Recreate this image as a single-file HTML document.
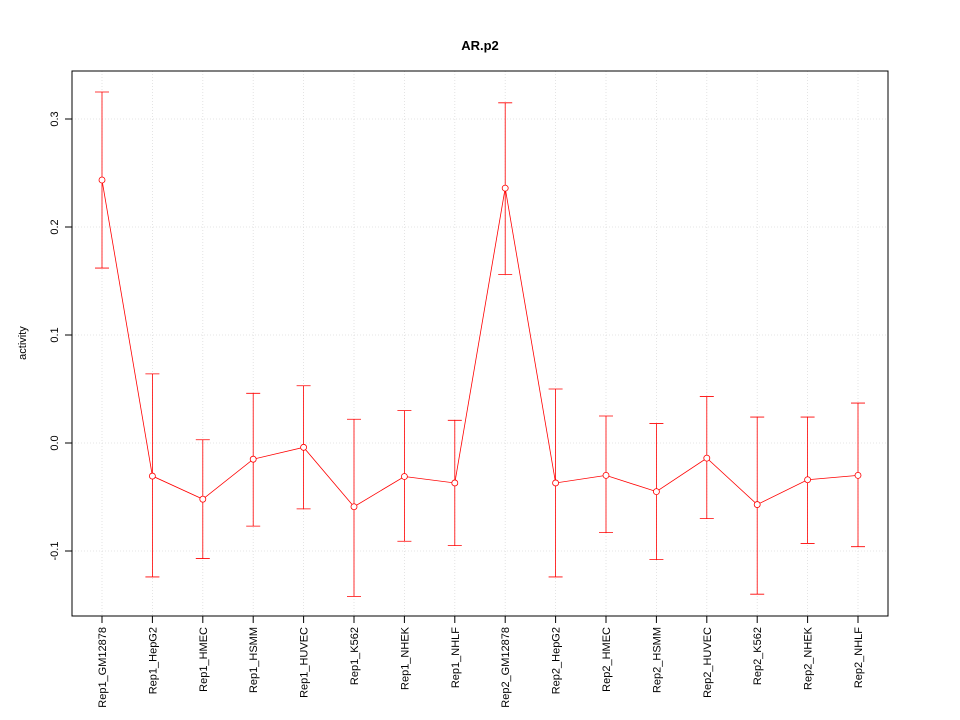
<!DOCTYPE html>
<html><head><meta charset="utf-8"><style>body{margin:0;background:#fff}svg{display:block;font-family:"Liberation Sans",sans-serif}</style></head>
<body>
<svg id="chart" width="960" height="720" xmlns="http://www.w3.org/2000/svg">
<rect width="960" height="720" fill="#fff"/>
<text x="480" y="50" text-anchor="middle" font-size="13" font-weight="bold">AR.p2</text>
<text transform="translate(26,343) rotate(-90)" text-anchor="middle" font-size="11">activity</text>
<g id="grid"></g><g id="axes"></g><g id="marks"></g>
<rect x="72" y="71" width="816" height="545" fill="none" stroke="#000"/>
</svg>
<script>
const categories=["Rep1_GM12878","Rep1_HepG2","Rep1_HMEC","Rep1_HSMM","Rep1_HUVEC","Rep1_K562","Rep1_NHEK","Rep1_NHLF","Rep2_GM12878","Rep2_HepG2","Rep2_HMEC","Rep2_HSMM","Rep2_HUVEC","Rep2_K562","Rep2_NHEK","Rep2_NHLF"];
const values=[0.2435,-0.0306,-0.052,-0.015,-0.004,-0.059,-0.031,-0.037,0.236,-0.037,-0.030,-0.045,-0.014,-0.057,-0.034,-0.030];
const upper=[0.325,0.064,0.003,0.046,0.053,0.022,0.030,0.021,0.315,0.050,0.025,0.018,0.043,0.024,0.024,0.037];
const lower=[0.162,-0.124,-0.107,-0.077,-0.061,-0.142,-0.091,-0.095,0.156,-0.124,-0.083,-0.108,-0.070,-0.140,-0.093,-0.096];
const yTicks=[-0.1,0.0,0.1,0.2,0.3];
const yTickLabels=["-0.1","0.0","0.1","0.2","0.3"];
const NS="http://www.w3.org/2000/svg";
const y=v=>443-1080*v;
const x=i=>102+i*(756/(categories.length-1));
function mk(t,a,p){const e=document.createElementNS(NS,t);for(const k in a)e.setAttribute(k,a[k]);p.appendChild(e);return e;}
const grid=document.getElementById('grid'),axes=document.getElementById('axes'),marks=document.getElementById('marks');
categories.forEach((c,i)=>{
 const g=mk('line',{x1:x(i),x2:x(i),y1:71,y2:616,stroke:'#ddd','stroke-width':0.8,'stroke-dasharray':'1,2'},grid);
 
 
 const t=mk('line',{x1:x(i),x2:x(i),y1:616,y2:623,stroke:'#000'},axes);
 
 
 const l=mk('text',{transform:`translate(${x(i)+4},627) rotate(-90)`,'text-anchor':'end','font-size':'11'},axes);
 l.textContent=c;
 
 
});
yTicks.forEach((v,i)=>{
 const g=mk('line',{x1:72,x2:888,y1:y(v),y2:y(v),stroke:'#ddd','stroke-width':0.8,'stroke-dasharray':'1,2'},grid);
 
 
 const t=mk('line',{x1:65,x2:72,y1:y(v),y2:y(v),stroke:'#000'},axes);
 
 
 const l=mk('text',{transform:`translate(58,${y(v)}) rotate(-90)`,'text-anchor':'middle','font-size':'11'},axes);
 l.textContent=yTickLabels[i];
 
 
});
const pl=mk('polyline',{points:values.map((v,i)=>x(i)+','+y(v)).join(' '),fill:'none',stroke:'#f00','stroke-width':0.8},marks);


values.forEach((v,i)=>{
 const e=mk('path',{d:`M${x(i)},${y(upper[i])}V${y(lower[i])}M${x(i)-7},${y(upper[i])}H${x(i)+7}M${x(i)-7},${y(lower[i])}H${x(i)+7}`,stroke:'#f00','stroke-width':0.8,fill:'none'},marks);
 
 
 const p=mk('circle',{cx:x(i),cy:y(v),r:3,fill:'#fff',stroke:'#f00','stroke-width':0.8},marks);
 
 
});
</script>
</body></html>
